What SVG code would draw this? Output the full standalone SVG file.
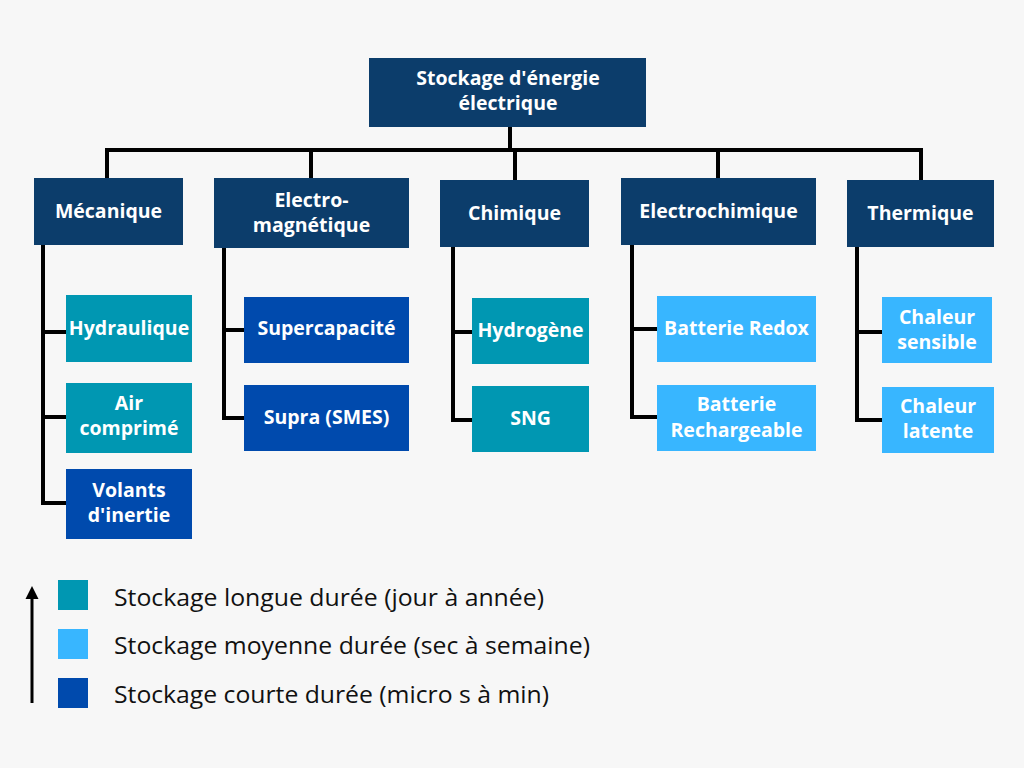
<svg xmlns="http://www.w3.org/2000/svg" width="1024" height="768" viewBox="0 0 1024 768">
<defs>
<style>
.navy{fill:#0c3d6b}
.teal{fill:#0097b2}
.light{fill:#38b6ff}
.dark{fill:#004aad}
.t{font-family:"Open Sans","Liberation Sans",sans-serif;font-weight:700;font-size:19.5px;fill:#ffffff;text-anchor:middle}
.c{fill:none;stroke:#000000;stroke-width:4}
.lg{font-family:"Open Sans","Noto Sans",sans-serif;font-size:23.5px;fill:#111111}
</style>
</defs>
<rect width="1024" height="768" fill="#f7f7f7"/>

<g id="connectors">
<path class="c" d="M510 127 V150"/>
<path class="c" d="M107 178 V150 H921 V180"/>
<path class="c" d="M311 150 V178"/>
<path class="c" d="M515 150 V180"/>
<path class="c" d="M718 150 V178"/>
<path class="c" d="M43 245 V503 H66"/>
<path class="c" d="M43 332 H66 M43 417 H66"/>
<path class="c" d="M224 248 V418 H244"/>
<path class="c" d="M224 330 H244"/>
<path class="c" d="M453 247 V420 H472"/>
<path class="c" d="M453 332 H472"/>
<path class="c" d="M632 245 V417 H657"/>
<path class="c" d="M632 329 H657"/>
<path class="c" d="M857 247 V420 H882"/>
<path class="c" d="M857 332 H882"/>
</g>

<g id="root">
<rect class="navy" x="369" y="58" width="277" height="69"/>
<text class="t" x="508" y="85">Stockage d'énergie</text>
<text class="t" x="508" y="110">électrique</text>
</g>

<g id="mecanique">
<rect class="navy" x="34" y="178" width="149" height="67"/>
<text class="t" x="108.5" y="218">Mécanique</text>
</g>
<g id="electromagnetique">
<rect class="navy" x="214" y="178" width="195" height="70"/>
<text class="t" x="311.5" y="207">Electro-</text>
<text class="t" x="311.5" y="232">magnétique</text>
</g>
<g id="chimique">
<rect class="navy" x="440" y="180" width="149" height="67"/>
<text class="t" x="514.5" y="220">Chimique</text>
</g>
<g id="electrochimique">
<rect class="navy" x="621" y="178" width="195" height="67"/>
<text class="t" x="718.5" y="218">Electrochimique</text>
</g>
<g id="thermique">
<rect class="navy" x="847" y="180" width="147" height="67"/>
<text class="t" x="920.5" y="220">Thermique</text>
</g>

<g id="hydraulique">
<rect class="teal" x="66" y="295" width="126" height="67"/>
<text class="t" x="129" y="335">Hydraulique</text>
</g>
<g id="air-comprime">
<rect class="teal" x="66" y="383" width="126" height="70"/>
<text class="t" x="129" y="410">Air</text>
<text class="t" x="129" y="435">comprimé</text>
</g>
<g id="volants">
<rect class="dark" x="66" y="469" width="126" height="70"/>
<text class="t" x="129" y="497">Volants</text>
<text class="t" x="129" y="522">d'inertie</text>
</g>

<g id="supercapacite">
<rect class="dark" x="244" y="297" width="165" height="66"/>
<text class="t" x="326.5" y="335">Supercapacité</text>
</g>
<g id="supra">
<rect class="dark" x="244" y="385" width="165" height="66"/>
<text class="t" x="326.5" y="424">Supra (SMES)</text>
</g>

<g id="hydrogene">
<rect class="teal" x="472" y="298" width="117" height="66"/>
<text class="t" x="530.5" y="337">Hydrogène</text>
</g>
<g id="sng">
<rect class="teal" x="472" y="386" width="117" height="66"/>
<text class="t" x="530.5" y="425">SNG</text>
</g>

<g id="batterie-redox">
<rect class="light" x="657" y="296" width="159" height="66"/>
<text class="t" x="736.5" y="335">Batterie Redox</text>
</g>
<g id="batterie-rechargeable">
<rect class="light" x="657" y="385" width="159" height="66"/>
<text class="t" x="736.5" y="411">Batterie</text>
<text class="t" x="736.5" y="437">Rechargeable</text>
</g>

<g id="chaleur-sensible">
<rect class="light" x="882" y="297" width="110" height="66"/>
<text class="t" x="937" y="324">Chaleur</text>
<text class="t" x="937" y="349">sensible</text>
</g>
<g id="chaleur-latente">
<rect class="light" x="882" y="387" width="112" height="66"/>
<text class="t" x="938" y="413">Chaleur</text>
<text class="t" x="938" y="438">latente</text>
</g>

<g id="legend">
<line x1="32" y1="703" x2="32" y2="596" stroke="#000" stroke-width="3"/>
<polygon points="32,586 25.5,599 38.5,599" fill="#000"/>
<rect class="teal" x="58" y="580" width="30" height="30"/>
<rect class="light" x="58" y="629" width="30" height="30"/>
<rect class="dark" x="58" y="678" width="30" height="30"/>
<text class="lg" x="114" y="606" textLength="430" lengthAdjust="spacingAndGlyphs">Stockage longue durée (jour à année)</text>
<text class="lg" x="114" y="654" textLength="476" lengthAdjust="spacingAndGlyphs">Stockage moyenne durée (sec à semaine)</text>
<text class="lg" x="114" y="703" textLength="435" lengthAdjust="spacingAndGlyphs">Stockage courte durée (micro s à min)</text>
</g>
</svg>
